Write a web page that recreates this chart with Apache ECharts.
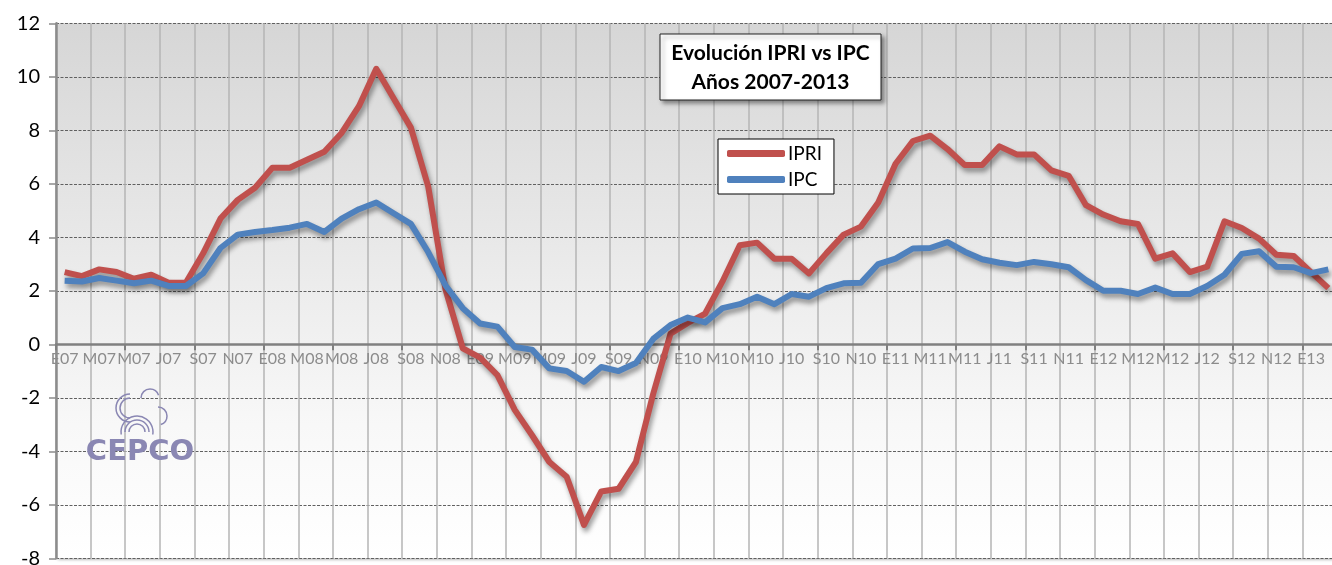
<!DOCTYPE html>
<html>
<head>
<meta charset="utf-8">
<script src="https://cdn.jsdelivr.net/npm/echarts@6/dist/echarts.min.js"></script>
<style>
html,body{margin:0;padding:0;background:#fff;}
#c{width:1332px;height:565px;}
</style>
</head>
<body>
<div id="c"></div>
<script>
var categories = [
 'E07','F07','M07','A07','M07','J07','J07','A07','S07','O07','N07','D07',
 'E08','F08','M08','A08','M08','J08','J08','A08','S08','O08','N08','D08',
 'E09','F09','M09','A09','M09','J09','J09','A09','S09','O09','N09','D09',
 'E10','F10','M10','A10','M10','J10','J10','A10','S10','O10','N10','D10',
 'E11','F11','M11','A11','M11','J11','J11','A11','S11','O11','N11','D11',
 'E12','F12','M12','A12','M12','J12','J12','A12','S12','O12','N12','D12',
 'E13','F13'
];
var ipri = [
 2.7,2.55,2.8,2.7,2.45,2.6,2.3,2.3,3.4,4.7,5.4,5.85,
 6.6,6.6,6.9,7.2,7.9,8.9,10.3,9.2,8.1,5.9,2.05,-0.15,
 -0.5,-1.15,-2.45,-3.4,-4.4,-4.95,-6.75,-5.5,-5.4,-4.4,-1.85,0.4,
 0.8,1.15,2.35,3.7,3.8,3.2,3.2,2.65,3.4,4.1,4.4,5.3,
 6.75,7.6,7.8,7.3,6.7,6.7,7.4,7.1,7.1,6.5,6.3,5.2,
 4.85,4.6,4.5,3.2,3.4,2.7,2.9,4.6,4.35,3.95,3.35,3.3,
 2.7,2.1
];
var ipc = [
 2.38,2.35,2.48,2.38,2.28,2.38,2.18,2.18,2.65,3.6,4.1,4.2,
 4.27,4.36,4.5,4.2,4.7,5.05,5.3,4.9,4.5,3.45,2.2,1.35,
 0.78,0.66,-0.1,-0.2,-0.9,-1.0,-1.4,-0.85,-1.0,-0.7,0.2,0.72,
 1.0,0.82,1.35,1.5,1.78,1.5,1.88,1.78,2.1,2.28,2.3,3.0,
 3.2,3.58,3.6,3.82,3.46,3.18,3.05,2.96,3.08,2.99,2.88,2.4,
 2.0,2.0,1.88,2.12,1.88,1.88,2.18,2.6,3.38,3.48,2.9,2.88,
 2.66,2.8
];
var yTicks = {min: -8, max: 12, interval: 2};
var titleLines = ['Evolución IPRI vs IPC', 'Años 2007-2013'];

var chart = echarts.init(document.getElementById('c'), null, {renderer: 'canvas'});
var lineShadow = {shadowColor: 'rgba(0,0,0,0.4)', shadowBlur: 5, shadowOffsetX: 2, shadowOffsetY: 4};
var logoColor = '#8a87b3';
var option = {
  animation: false,
  backgroundColor: '#ffffff',
  grid: {
    left: 56, right: -5, top: 23.3, bottom: 6.7,
    outerBoundsMode: 'none', containLabel: false,
    show: true, borderWidth: 0,
    backgroundColor: {type: 'linear', x: 0, y: 0, x2: 0, y2: 1,
      colorStops: [{offset: 0, color: '#d6d6d6'}, {offset: 0.75, color: '#f8f8f8'}, {offset: 1, color: '#ffffff'}]},
    shadowColor: 'rgba(0,0,0,0.35)', shadowBlur: 3, shadowOffsetX: 2, shadowOffsetY: 2
  },
  xAxis: {
    type: 'category', data: categories, boundaryGap: true,
    position: 'bottom', offset: -214,
    axisLine: {onZero: false, lineStyle: {color: '#808080', width: 2.5}},
    axisTick: {show: true, interval: 3, length: 6, lineStyle: {color: '#808080', width: 2}},
    axisLabel: {interval: 1, color: '#8c8c8c', fontSize: 16, margin: 7, fontFamily: 'Lato'},
    splitLine: {show: true, interval: 1, lineStyle: {color: '#b5b5b5', width: 1.5}}
  },
  yAxis: {
    type: 'value', min: yTicks.min, max: yTicks.max, interval: yTicks.interval,
    axisLine: {show: true, lineStyle: {color: '#8c8c8c', width: 2.5}},
    axisTick: {show: true, length: 7, lineStyle: {color: '#8c8c8c', width: 1.5}},
    axisLabel: {color: '#000', fontSize: 20, margin: 16, fontFamily: 'Lato'},
    splitLine: {show: true, lineStyle: {color: '#606060', width: 1, type: [3, 1.5]}}
  },
  legend: {
    orient: 'vertical', left: 718, top: 139,
    data: ['IPRI', 'IPC'],
    backgroundColor: '#fff', borderColor: '#000', borderWidth: 1,
    padding: [5, 12, 5, 9],
    itemWidth: 58, itemHeight: 7, itemGap: 7,
    icon: 'roundRect',
    textStyle: {fontSize: 19, color: '#000', fontFamily: 'Lato', padding: [0, 0, 0, -2]}
  },
  graphic: [
    {type: 'rect', shape: {x: 660, y: 34, width: 221, height: 66}, z: 100,
     style: {fill: '#fff', stroke: '#222', lineWidth: 1, shadowColor: 'rgba(0,0,0,0.4)', shadowBlur: 4, shadowOffsetX: 3, shadowOffsetY: 3}},
    {type: 'text', x: 770.5, y: 53, z: 101,
     style: {text: titleLines[0], fill: '#000', font: 'bold 21px Lato', align: 'center', verticalAlign: 'middle'}},
    {type: 'text', x: 770.5, y: 82, z: 101,
     style: {text: titleLines[1], fill: '#000', font: 'bold 21px Lato', align: 'center', verticalAlign: 'middle'}},
    {type: 'text', x: 140, y: 452, z: 50,
     style: {text: 'CEPCO', fill: logoColor, font: 'bold 29px "DejaVu Sans"', align: 'center', verticalAlign: 'middle'}},
    {type: 'arc', shape: {cx: 137, cy: 432, r: 8, startAngle: Math.PI, endAngle: 2 * Math.PI}, z: 50,
     style: {fill: 'none', stroke: logoColor, lineWidth: 1.5}},
    {type: 'arc', shape: {cx: 137, cy: 432, r: 12, startAngle: Math.PI, endAngle: 2 * Math.PI}, z: 50,
     style: {fill: 'none', stroke: logoColor, lineWidth: 1.5}},
    {type: 'arc', shape: {cx: 137, cy: 432, r: 16, startAngle: Math.PI * 0.95, endAngle: 2.05 * Math.PI}, z: 50,
     style: {fill: 'none', stroke: logoColor, lineWidth: 1.5}},
    {type: 'arc', shape: {cx: 130, cy: 408, r: 14, startAngle: Math.PI * 0.5, endAngle: 1.5 * Math.PI}, z: 50,
     style: {fill: 'none', stroke: logoColor, lineWidth: 1.5}},
    {type: 'arc', shape: {cx: 130, cy: 408, r: 10, startAngle: Math.PI * 0.5, endAngle: 1.5 * Math.PI}, z: 50,
     style: {fill: 'none', stroke: logoColor, lineWidth: 1.5}},
    {type: 'arc', shape: {cx: 150, cy: 398, r: 9, startAngle: Math.PI * 1.0, endAngle: 1.9 * Math.PI}, z: 50,
     style: {fill: 'none', stroke: logoColor, lineWidth: 1.5}},
    {type: 'arc', shape: {cx: 158, cy: 416, r: 9, startAngle: Math.PI * 1.5, endAngle: 2.4 * Math.PI}, z: 50,
     style: {fill: 'none', stroke: logoColor, lineWidth: 1.5}}
  ],
  series: [
    {name: 'IPRI', type: 'line', data: ipri, symbol: 'none', z: 3,
     lineStyle: Object.assign({color: '#C0504D', width: 6, join: 'round'}, lineShadow),
     itemStyle: {color: '#C0504D'}},
    {name: 'IPC', type: 'line', data: ipc, symbol: 'none', z: 4,
     lineStyle: Object.assign({color: '#4F81BD', width: 6, join: 'round'}, lineShadow),
     itemStyle: {color: '#4F81BD'}}
  ]
};
chart.setOption(option);
</script>
</body>
</html>
